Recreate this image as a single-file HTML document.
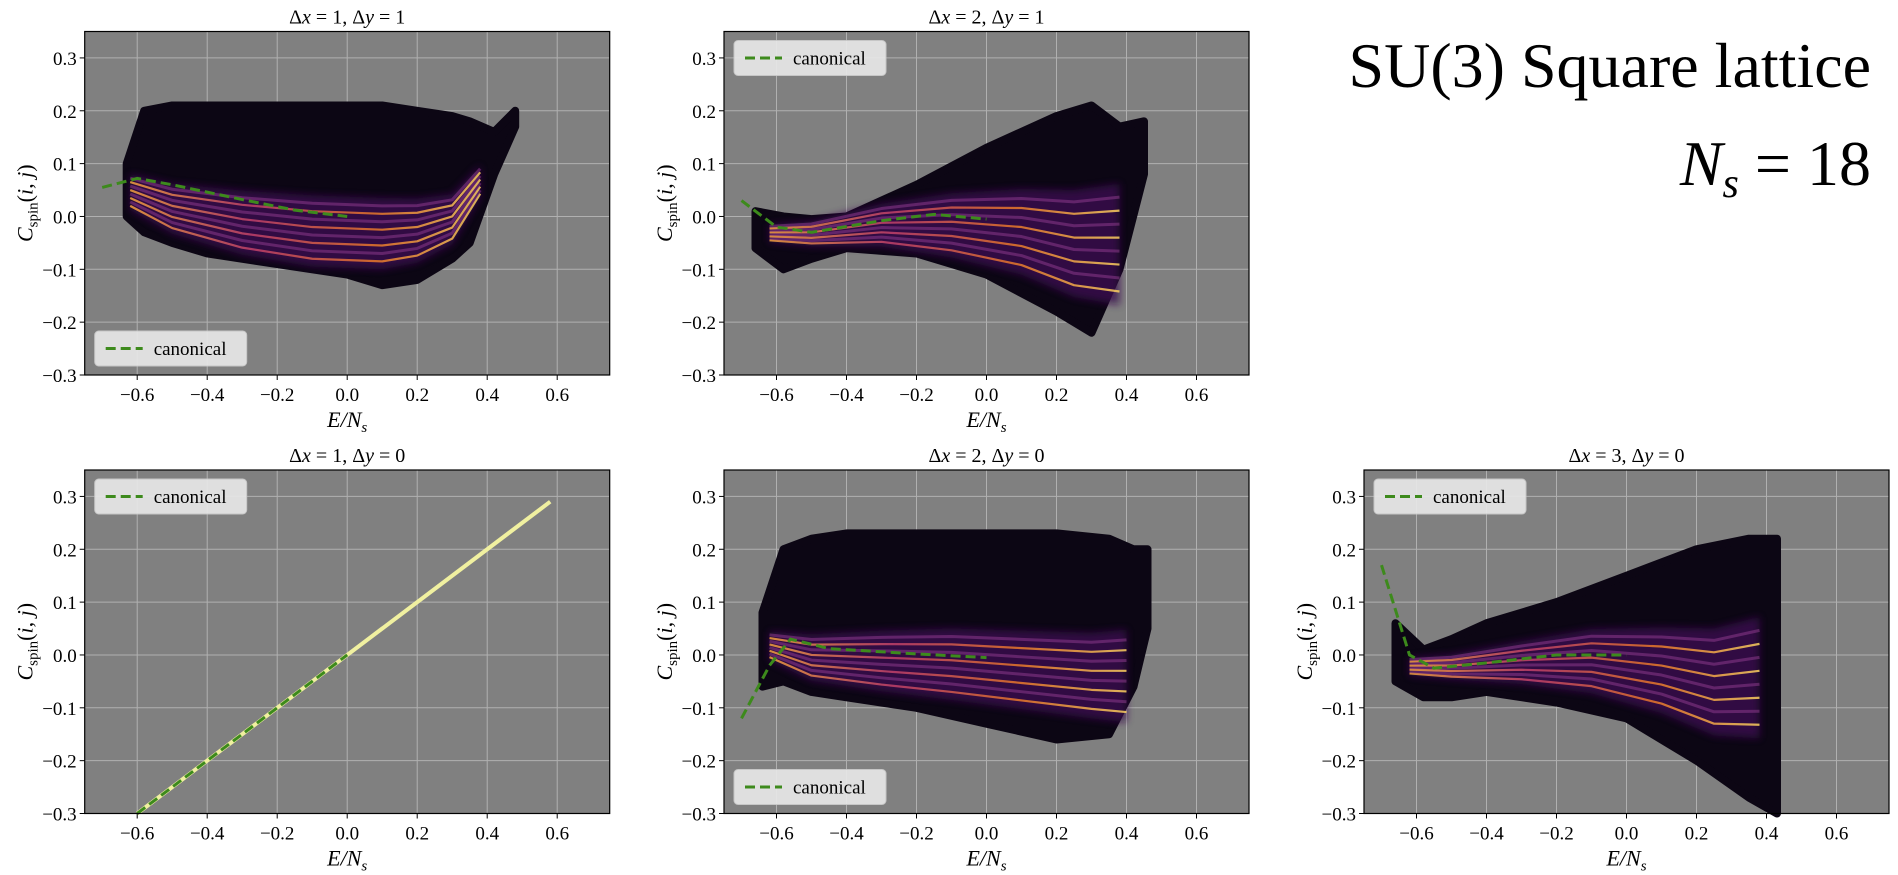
<!DOCTYPE html>
<html><head><meta charset="utf-8">
<style>
html,body{margin:0;padding:0;background:#fff;}
svg{display:block;font-family:"Liberation Serif",serif;}
</style></head>
<body>
<svg id="fig" width="1898" height="875" xmlns="http://www.w3.org/2000/svg">
<defs>
<linearGradient id="bandGrad" x1="0" x2="1" y1="0" y2="0">
<stop offset="0" stop-color="#f4a040"/>
<stop offset="0.35" stop-color="#c0406a"/>
<stop offset="0.7" stop-color="#e8782a"/>
<stop offset="1" stop-color="#fcd060"/>
</linearGradient>
<filter id="blur4"><feGaussianBlur stdDeviation="4"/></filter>
</defs>
<text x="1871" y="87" text-anchor="end" font-size="64" fill="#000">SU(3) Square lattice</text>
<text x="1871" y="185" text-anchor="end" font-size="64" fill="#000"><tspan font-style="italic">N</tspan><tspan font-style="italic" font-size="42" dy="12">s</tspan><tspan dy="-12"> = 18</tspan></text>
</svg>
<script>
// ---- data ----
const xTicks = [-0.6,-0.4,-0.2,0.0,0.2,0.4,0.6];
const yTicks = [-0.3,-0.2,-0.1,0.0,0.1,0.2,0.3];
const xLim = [-0.75,0.75];
const yLim = [-0.3,0.35];
const bandOffsets = [-0.06,-0.045,-0.03,-0.015,0,0.015,0.03,0.045];

const p1Energy = [-0.63,-0.58,-0.5,-0.4,-0.2,0.0,0.1,0.2,0.3,0.35,0.42,0.48];
const p1Upper  = [0.10,0.20,0.21,0.21,0.21,0.21,0.21,0.20,0.19,0.18,0.16,0.20];
const p1Lower  = [0.00,-0.03,-0.05,-0.07,-0.09,-0.11,-0.13,-0.12,-0.08,-0.05,0.08,0.17];
const p1BandE  = [-0.62,-0.5,-0.3,-0.1,0.1,0.2,0.3,0.38];
const p1BandC  = [0.05,0.02,-0.005,-0.02,-0.025,-0.02,0.0,0.07];
const p1BandS  = [0.5,0.7,0.9,1.0,1.0,0.9,0.7,0.45];
const p1Canon  = [[-0.7,0.055],[-0.6,0.072],[-0.5,0.06],[-0.3,0.032],[-0.15,0.012],[0,0.0]];

const p2Energy = [-0.66,-0.58,-0.5,-0.4,-0.2,0.0,0.2,0.3,0.38,0.45];
const p2Upper  = [0.01,0.0,-0.005,0.0,0.06,0.13,0.19,0.21,0.17,0.18];
const p2Lower  = [-0.06,-0.1,-0.08,-0.06,-0.07,-0.11,-0.18,-0.22,-0.1,0.08];
const p2BandE  = [-0.62,-0.5,-0.3,-0.1,0.1,0.25,0.38];
const p2BandC  = [-0.03,-0.03,-0.012,-0.01,-0.02,-0.04,-0.04];
const p2BandS  = [0.25,0.35,0.6,0.9,1.2,1.5,1.7];
const p2Canon  = [[-0.7,0.03],[-0.6,-0.02],[-0.5,-0.03],[-0.3,-0.008],[-0.15,0.004],[0,-0.005]];

const p4Energy = [-0.6,0.58];
const p4Value  = [-0.3,0.29];
const p4Canon  = [[-0.6,-0.3],[0,0.0]];

const p5Energy = [-0.64,-0.58,-0.5,-0.4,-0.2,0.0,0.2,0.35,0.42,0.46];
const p5Upper  = [0.08,0.2,0.22,0.23,0.23,0.23,0.23,0.22,0.2,0.2];
const p5Lower  = [-0.06,-0.05,-0.07,-0.08,-0.1,-0.13,-0.16,-0.15,-0.06,0.05];
const p5BandE  = [-0.62,-0.5,-0.3,-0.1,0.1,0.3,0.4];
const p5BandC  = [0.02,0.0,-0.005,-0.01,-0.02,-0.03,-0.03];
const p5BandS  = [0.4,0.65,0.85,1.0,1.1,1.2,1.3];
const p5Canon  = [[-0.7,-0.12],[-0.62,-0.02],[-0.56,0.03],[-0.45,0.012],[-0.2,0.002],[0,-0.005]];

const p6Energy = [-0.66,-0.58,-0.5,-0.4,-0.2,0.0,0.2,0.35,0.43];
const p6Upper  = [0.06,0.01,0.03,0.06,0.1,0.15,0.2,0.22,0.22];
const p6Lower  = [-0.05,-0.08,-0.08,-0.07,-0.09,-0.12,-0.2,-0.27,-0.3];
const p6BandE  = [-0.62,-0.5,-0.3,-0.1,0.1,0.25,0.38];
const p6BandC  = [-0.02,-0.02,-0.01,-0.005,-0.02,-0.04,-0.03];
const p6BandS  = [0.25,0.35,0.6,0.9,1.2,1.5,1.7];
const p6Canon  = [[-0.7,0.17],[-0.62,0.0],[-0.55,-0.025],[-0.4,-0.015],[-0.2,0.0],[0,0.0]];

const NS='http://www.w3.org/2000/svg';
const fig=document.getElementById('fig');
function mk(tag,attrs,parent){const e=document.createElementNS(NS,tag);for(const k in attrs)e.setAttribute(k,attrs[k]);(parent||fig).appendChild(e);return e;}

const cols=[84.7,724,1364], W=525;
const rows=[31.5,470], H=343.5;

function panel(ci,ri,title,opt){
  const L=cols[ci],T=rows[ri];
  const sx=v=>L+(v-xLim[0])/(xLim[1]-xLim[0])*W;
  const sy=v=>T+(yLim[1]-v)/(yLim[1]-yLim[0])*H;
  const g=mk('g',{});
  
  
  const bg=mk('rect',{x:L,y:T,width:W,height:H,fill:'#808080'},g);
  
  
  xTicks.forEach(t=>{
    const gl=mk('line',{x1:sx(t),x2:sx(t),y1:T,y2:T+H,stroke:'#b0b0b0','stroke-width':1},g);
    
    
    mk('line',{x1:sx(t),x2:sx(t),y1:T+H,y2:T+H+5,stroke:'#000'},g);
    const tl=mk('text',{x:sx(t),y:T+H+26,'text-anchor':'middle','font-size':19},g);
    tl.textContent=(t<0?'\u2212':'')+Math.abs(t).toFixed(1);
    
    
  });
  yTicks.forEach(t=>{
    const gl=mk('line',{x1:L,x2:L+W,y1:sy(t),y2:sy(t),stroke:'#b0b0b0','stroke-width':1},g);
    
    
    mk('line',{x1:L-5,x2:L,y1:sy(t),y2:sy(t),stroke:'#000'},g);
    const tl=mk('text',{x:L-8,y:sy(t)+7,'text-anchor':'end','font-size':19},g);
    tl.textContent=(t<0?'\u2212':'')+Math.abs(t).toFixed(1);
    
    
  });
  const clip=mk('g',{},g);
  if(opt.E){
    let d='M'+opt.E.map((e,i)=>sx(e)+','+sy(opt.U[i])).join('L');
    for(let i=opt.E.length-1;i>=0;i--) d+='L'+sx(opt.E[i])+','+sy(opt.Lo[i]);
    const blob=mk('path',{d:d+'Z',fill:'#0c0614',stroke:'#0c0614','stroke-width':8,'stroke-linejoin':'round'},clip);
    
    
    // purple glow around bands
    let gd='M'+opt.BE.map((e,i)=>sx(e)+','+sy(opt.BC[i]+0.06*opt.BS[i])).join('L');
    for(let i=opt.BE.length-1;i>=0;i--) gd+='L'+sx(opt.BE[i])+','+sy(opt.BC[i]-0.075*opt.BS[i]);
    const glow=mk('path',{d:gd+'Z',fill:'#3a1050',opacity:0.8,filter:'url(#blur4)'},clip);
    
    
    bandOffsets.forEach((o,k)=>{
      const pts=opt.BE.map((e,i)=>sx(e)+','+sy(opt.BC[i]+o*opt.BS[i]));
      const b=mk('polyline',{points:pts.join(' '),fill:'none',stroke:k%2?'#8a3a8a':'url(#bandGrad)','stroke-width':k%2?3:2.2,opacity:k%2?0.55:0.85,'stroke-linejoin':'round'},clip);
      
      
    });
  }
  if(opt.lineE){
    const ln=mk('line',{x1:sx(opt.lineE[0]),y1:sy(opt.lineV[0]),x2:sx(opt.lineE[1]),y2:sy(opt.lineV[1]),stroke:'#f0f0a0','stroke-width':4},clip);
    
    
  }
  const cl=mk('polyline',{points:opt.C.map(p=>sx(p[0])+','+sy(p[1])).join(' '),fill:'none',stroke:'#3d8a1c','stroke-width':3,'stroke-dasharray':'10,5'},g);
  
  
  const fr=mk('rect',{x:L,y:T,width:W,height:H,fill:'none',stroke:'#000','stroke-width':1.2},g);
  
  
  const ti=mk('text',{x:L+W/2,y:T-8,'text-anchor':'middle','font-size':20},g);
  ti.innerHTML=title;
  
  
  const xl=mk('text',{x:L+W/2,y:T+H+52,'text-anchor':'middle','font-size':22,'font-style':'italic'},g);
  xl.innerHTML='E/N<tspan font-size="15" dy="5">s</tspan>';
  
  
  const yl=mk('text',{transform:`translate(${L-52},${T+H/2}) rotate(-90)`,'text-anchor':'middle','font-size':22,'font-style':'italic'},g);
  yl.innerHTML='C<tspan font-size="15" dy="5" font-style="normal">spin</tspan><tspan dy="-5" font-style="normal">(</tspan>i, j<tspan font-style="normal">)</tspan>';
  
  
  const ly=opt.legBottom?T+H-44:T+9;
  const lg=mk('g',{},g);
  
  
  mk('rect',{x:L+10,y:ly,width:152,height:35,rx:4,fill:'#e8e8e8',stroke:'#cccccc',opacity:0.92},lg);
  mk('line',{x1:L+21,x2:L+58,y1:ly+17.5,y2:ly+17.5,stroke:'#3d8a1c','stroke-width':3,'stroke-dasharray':'10,5'},lg);
  const lt=mk('text',{x:L+69,y:ly+24,'font-size':19},lg);
  lt.textContent='canonical';
}
panel(0,0,'Δ<tspan font-style="italic">x</tspan> = 1, Δ<tspan font-style="italic">y</tspan> = 1',{id:'dx1-dy1',E:p1Energy,U:p1Upper,Lo:p1Lower,BE:p1BandE,BC:p1BandC,BS:p1BandS,C:p1Canon,legBottom:true});
panel(1,0,'Δ<tspan font-style="italic">x</tspan> = 2, Δ<tspan font-style="italic">y</tspan> = 1',{id:'dx2-dy1',E:p2Energy,U:p2Upper,Lo:p2Lower,BE:p2BandE,BC:p2BandC,BS:p2BandS,C:p2Canon,legBottom:false});
panel(0,1,'Δ<tspan font-style="italic">x</tspan> = 1, Δ<tspan font-style="italic">y</tspan> = 0',{id:'dx1-dy0',lineE:p4Energy,lineV:p4Value,C:p4Canon,legBottom:false});
panel(1,1,'Δ<tspan font-style="italic">x</tspan> = 2, Δ<tspan font-style="italic">y</tspan> = 0',{id:'dx2-dy0',E:p5Energy,U:p5Upper,Lo:p5Lower,BE:p5BandE,BC:p5BandC,BS:p5BandS,C:p5Canon,legBottom:true});
panel(2,1,'Δ<tspan font-style="italic">x</tspan> = 3, Δ<tspan font-style="italic">y</tspan> = 0',{id:'dx3-dy0',E:p6Energy,U:p6Upper,Lo:p6Lower,BE:p6BandE,BC:p6BandC,BS:p6BandS,C:p6Canon,legBottom:false});
</script>
</body></html>
